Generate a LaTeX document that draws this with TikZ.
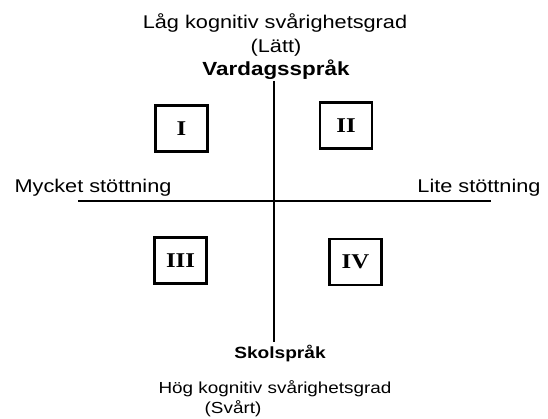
\documentclass[tikz,border=0pt]{standalone}
\usepackage{fontspec}
\setmainfont{Liberation Sans}
\newfontfamily\romanfont{Liberation Serif}
\newcommand{\stretchtext}[1]{\scalebox{1.18}[1]{#1}}
\tikzset{
  label/.style={inner sep=0pt, anchor=base, font=\fontsize{18.4}{21}\selectfont},
  smalllabel/.style={inner sep=0pt, anchor=base, font=\fontsize{16}{19}\selectfont},
  boldlabel/.style={inner sep=0pt, anchor=base, font=\fontsize{19}{22}\selectfont\bfseries},
  smallbold/.style={inner sep=0pt, anchor=base, font=\fontsize{16.2}{19}\selectfont\bfseries},
  quadrant/.style={draw, line width=2.4pt, minimum width=52pt, minimum height=46pt,
    inner sep=0pt, font=\fontsize{21}{24}\selectfont\romanfont\bfseries},
  axis/.style={line width=1.6pt}
}
\begin{document}
\begin{tikzpicture}[x=1pt,y=-1pt]
\useasboundingbox (0,0) rectangle (548,419);

% axes
\coordinate (vtop) at (274,81);
\coordinate (vbot) at (274,342);
\coordinate (hleft) at (78,201);
\coordinate (hright) at (491,201);
\draw[axis] (vtop) -- (vbot);
\draw[axis] (hleft) -- (hright);

% top labels
\node[label] (low) at (275,29) {\stretchtext{Låg kognitiv svårighetsgrad}};
\node[label] (easy) at (276,53) {\stretchtext{(Lätt)}};
\node[boldlabel] (everyday) at (276,76) {\stretchtext{Vardagsspråk}};

% side labels
\node[label] (much) at (93,193) {\stretchtext{Mycket stöttning}};
\node[label] (little) at (479,193) {\stretchtext{Lite stöttning}};

% bottom labels
\node[smallbold] (school) at (280,358) {\stretchtext{Skolspråk}};
\node[smalllabel] (high) at (275,393) {\stretchtext{Hög kognitiv svårighetsgrad}};
\node[smalllabel] (hard) at (233,413) {\stretchtext{(Svårt)}};

% quadrants
\node[quadrant] (q1) at (181.5,128.5) {\stretchtext{I}};
\node[quadrant] (q2) at (346,125.5) {\stretchtext{II}};
\node[quadrant] (q3) at (180.5,260.5) {\stretchtext{III}};
\node[quadrant] (q4) at (355.5,262) {\stretchtext{IV}};
\end{tikzpicture}
\end{document}
